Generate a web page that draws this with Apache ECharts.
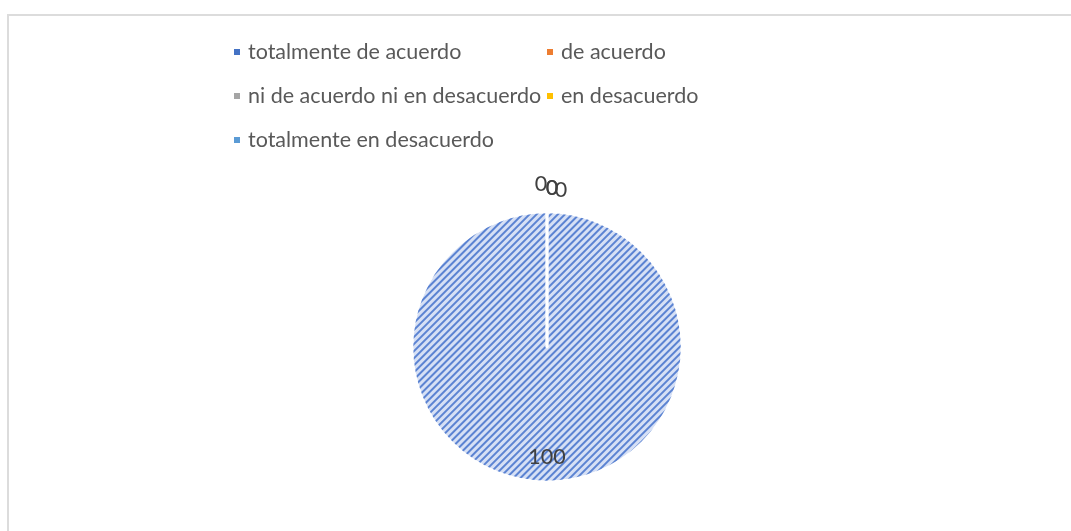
<!DOCTYPE html>
<html>
<head>
<meta charset="utf-8">
<script src="https://cdn.jsdelivr.net/npm/echarts@6/dist/echarts.min.js"></script>
<style>
  html, body { margin: 0; padding: 0; width: 1071px; height: 531px; overflow: hidden; background: #fff; }
  #frame { position: absolute; left: 7px; top: 14px; width: 1200px; height: 700px; border: 2px solid #dcdcdc; box-sizing: border-box; }
  #chart { position: absolute; left: 0; top: 0; width: 1071px; height: 531px; }
</style>
</head>
<body>
<div id="frame"></div>
<div id="chart"></div>
<script>
// ---- data ----
const categories = [
  'totalmente de acuerdo',
  'de acuerdo',
  'ni de acuerdo ni en desacuerdo',
  'en desacuerdo',
  'totalmente en desacuerdo'
];
const values = [100, 0, 0, 0, 0];
const legendColors = ['#4472c4', '#ed7d31', '#a5a5a5', '#ffc000', '#5b9bd5'];

// small label nudges (Excel staggers the overlapping zero labels; the 100 label sits near the rim)
const labelDx = [0, -6, 5, 14, 5];
const labelDy = [40, -4, 0, 2, 0];

const FONT = 'Lato, "Open Sans", sans-serif';

const pieData = categories.map(function (name, i) {
  const item = { name: name, value: values[i] };
  if (i === 0) {
    item.itemStyle = {
      color: '#d6e0f5',
      decal: {
        symbol: 'rect',
        symbolSize: 1,
        color: '#5b83d2',
        dashArrayX: [1, 0],
        dashArrayY: [2, 2.2],
        rotation: -Math.PI / 4
      }
    };
    item.label = { position: 'inside' };
  } else {
    item.itemStyle = { color: legendColors[i] };
    item.label = { position: 'outside', distanceToLabelLine: 0 };
    item.labelLine = { show: false, length: 24, length2: 0 };
  }
  return item;
});

const chart = echarts.init(document.getElementById('chart'), null, { renderer: 'canvas' });
chart.setOption({
  animation: false,
  legend: {
    left: 232,
    top: 31,
    width: 640,
    padding: 0,
    itemGap: 2,
    itemWidth: 8,
    itemHeight: 8,
    icon: 'rect',
    selectedMode: false,
    data: categories.map(function (name, i) {
      return { name: name, itemStyle: { color: legendColors[i], decal: 'none' } };
    }),
    textStyle: {
      color: '#595959',
      fontFamily: FONT,
      fontSize: 21.5,
      lineHeight: 42,
      width: 295,
      padding: [0, 0, 0, 2]
    }
  },
  series: [{
    type: 'pie',
    center: [547, 347],
    radius: [0, 135],
    startAngle: 90,
    clockwise: true,
    avoidLabelOverlap: false,
    itemStyle: { borderColor: '#ffffff', borderWidth: 2.5 },
    label: {
      show: true,
      formatter: '{c}',
      color: '#404040',
      fontFamily: FONT,
      fontSize: 21.5
    },
    labelLayout: function (params) {
      const i = params.dataIndex;
      return { align: 'center', verticalAlign: 'middle', dx: labelDx[i], dy: labelDy[i] };
    },
    emphasis: { disabled: true },
    data: pieData
  }]
});
</script>
</body>
</html>
